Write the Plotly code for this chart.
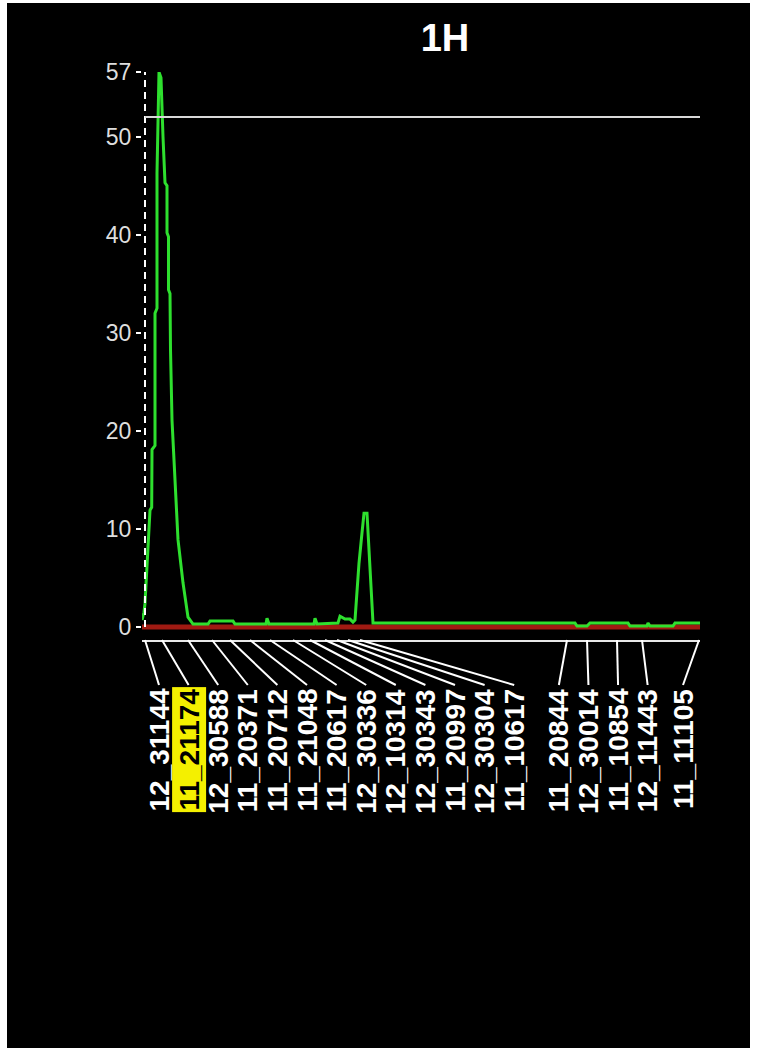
import plotly.graph_objects as go

# ---- data -------------------------------------------------------------
title_text = "1H"

# signal trace: position along the run vs. intensity
run_pos = [0, 2, 3, 4.7, 6.3, 8, 9.7, 10, 13, 13, 15, 15, 17, 19, 21, 23, 25, 25,
           26.5, 26.5, 28, 28.5, 30, 33, 36, 41, 46, 51,
           66, 68, 91, 93, 124, 125, 127, 172, 173, 175, 196, 198, 203, 208, 211,
           213, 215, 217, 220, 222, 225, 226, 228, 230, 231,
           433, 435, 445, 448, 486, 488, 505, 506, 508, 531, 533, 558]
intensity = [0.7, 1.5, 2.4, 5.5, 8.2, 11.9, 12.2, 18.1, 18.5, 32.0, 32.5, 46.3, 56.6, 56.0,
             50.0, 45.3, 45.0, 40.2, 39.8, 34.4, 34.0, 28.3, 21.1, 15.0, 8.9, 4.5, 1.0, 0.3,
             0.3, 0.6, 0.6, 0.3, 0.3, 0.9, 0.3, 0.3, 0.9, 0.3, 0.4, 1.1, 0.8, 0.8, 0.5,
             0.7, 3.8, 6.5, 9.6, 11.6, 11.6, 9.6, 6.5, 3.0, 0.4,
             0.4, 0.1, 0.1, 0.4, 0.4, 0.1, 0.1, 0.4, 0.1, 0.1, 0.4, 0.4]

baseline_value = 0.0
threshold_value = 52.0
y_ticks = [0, 10, 20, 30, 40, 50]

sample_ids = ["12_31144", "11_21174", "12_30588", "11_20371", "11_20712", "11_21048",
              "11_20617", "12_30336", "12_10314", "12_30343", "11_20997", "12_30304",
              "11_10617", "11_20844", "12_30014", "11_10854", "12_11443", "11_11105"]
sample_pos = [3, 20, 46, 70, 88, 108, 128, 151, 168, 183, 195, 206, 218,
              425, 445, 475, 500, 557]
highlighted_id = "11_21174"

# ---- layout constants -------------------------------------------------
W, H = 757, 1048
M_L, M_R, M_T, M_B = 142, 57, 72, 408
PLOT_W = W - M_L - M_R
PLOT_H = H - M_T - M_B
X_MAX = 558
px_per_unit = PLOT_W / X_MAX

y_top = max(intensity)
y_bottom = -1.33

LABEL_GAP = 29.6 / px_per_unit        # minimum spacing between rotated labels
LABEL_PAD = 17 / px_per_unit          # keep labels inside the axis span
LEADER_LEN = 45                       # px
LABEL_OFFSET = 47                     # px below the axis line
FONT = "Liberation Sans, Arial, sans-serif"


def spread_labels(anchors, gap, lo, hi):
    """Group overlapping labels, centre each group on its anchors, clamp to [lo, hi]."""
    def start_of(group):
        n = len(group)
        s = sum(group) / n - (n - 1) * gap / 2
        return min(max(s, lo), hi - (n - 1) * gap)

    groups = [[a] for a in anchors]
    changed = True
    while changed:
        changed = False
        merged = []
        for g in groups:
            if merged and start_of(merged[-1]) + len(merged[-1]) * gap > start_of(g):
                merged[-1] = merged[-1] + g
                changed = True
            else:
                merged.append(g)
        groups = merged
    out = []
    for g in groups:
        s = start_of(g)
        out += [s + k * gap for k in range(len(g))]
    return out


label_pos = spread_labels(sample_pos, LABEL_GAP, LABEL_PAD, X_MAX - LABEL_PAD)

fig = go.Figure()

# baseline (red) and signal (green)
fig.add_trace(go.Scatter(x=[0, X_MAX], y=[baseline_value, baseline_value], mode="lines",
                         line=dict(color="#a01a12", width=5), hoverinfo="skip"))
fig.add_trace(go.Scatter(x=run_pos, y=intensity, mode="lines",
                         line=dict(color="#2ee02e", width=3), hoverinfo="skip"))

shapes = []


def px_to_paper_x(px):
    return (px - M_L) / PLOT_W


def px_to_paper_y(py):
    return (H - M_B - py) / PLOT_H


# page background: black panel inside a thin white frame
shapes.append(dict(type="rect", xref="paper", yref="paper",
                   x0=px_to_paper_x(7), x1=px_to_paper_x(750),
                   y0=px_to_paper_y(H + 5), y1=px_to_paper_y(3),
                   fillcolor="black", line=dict(width=0), layer="below"))

# dashed value axis
shapes.append(dict(type="line", xref="x", yref="y", x0=3, x1=3, y0=0, y1=y_top,
                   line=dict(color="white", width=2, dash="7px,5px")))

# threshold line
shapes.append(dict(type="line", xref="x", yref="y", x0=3, x1=X_MAX,
                   y0=threshold_value, y1=threshold_value,
                   line=dict(color="#d8d8d8", width=2)))

# leader lines from each sample position to its label
for a, p in zip(sample_pos, label_pos):
    shapes.append(dict(type="line", xref="x", yref="paper", ysizemode="pixel", yanchor=0,
                       x0=a, x1=p, y0=0, y1=-LEADER_LEN,
                       line=dict(color="white", width=2)))

annotations = []
for sid, p in zip(sample_ids, label_pos):
    hl = sid == highlighted_id
    annotations.append(dict(
        x=p, xref="x", y=0, yref="paper", yshift=-LABEL_OFFSET,
        xanchor="center", yanchor="top", textangle=-90, showarrow=False,
        text=f"<b>{sid}</b>",
        font=dict(family=FONT, size=28, color="black" if hl else "white"),
        bgcolor="#f4f000" if hl else "rgba(0,0,0,0)", borderpad=1,
    ))

tick_vals = y_ticks + [y_top]
tick_text = [str(v) for v in y_ticks] + [str(round(y_top))]

fig.update_layout(
    width=W, height=H,
    margin=dict(l=M_L, r=M_R, t=M_T, b=M_B, pad=0),
    paper_bgcolor="white", plot_bgcolor="black",
    showlegend=False,
    title=dict(text=f"<b>{title_text}</b>", x=px_to_paper_x(445), xref="paper",
               xanchor="center", y=1 - 38 / H, yref="container", yanchor="middle",
               font=dict(family=FONT, size=38, color="white")),
    xaxis=dict(range=[0, X_MAX], showgrid=False, zeroline=False, showticklabels=False,
               ticks="", showline=True, linecolor="#e8e8e8", linewidth=2,
               fixedrange=True),
    yaxis=dict(range=[y_bottom, y_top], showgrid=False, zeroline=False, showline=False,
               tickvals=tick_vals, ticktext=tick_text, ticks="outside", ticklen=5,
               tickwidth=2, tickcolor="white",
               tickfont=dict(family=FONT, size=23, color="#dedede"),
               fixedrange=True),
    shapes=shapes,
    annotations=annotations,
)

fig.write_html("out.html")
